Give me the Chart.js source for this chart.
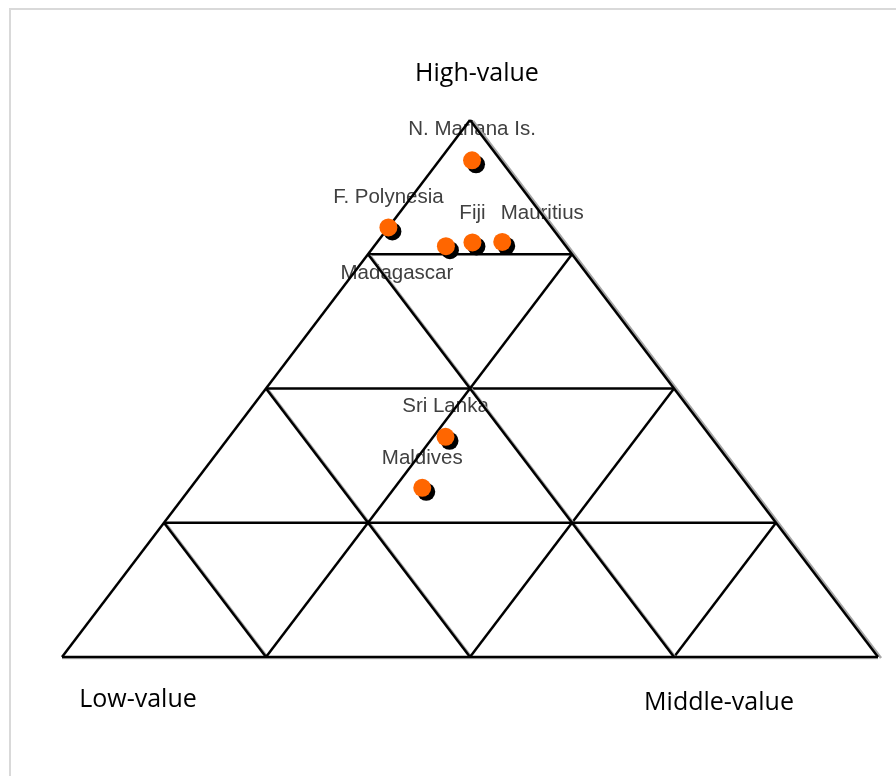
<!DOCTYPE html>
<html>
<head>
<meta charset="utf-8">
<title>Ternary chart</title>
<script src="https://cdn.jsdelivr.net/npm/chart.js@4"></script>
<style>
    html, body { margin: 0; padding: 0; background: #ffffff; }
    #wrap { position: relative; width: 896px; height: 776px; overflow: hidden; }
    #frame {
        position: absolute; left: 9px; top: 8px; right: -10px; bottom: -10px;
        border-top: 2px solid #d9d9d9; border-left: 2px solid #d9d9d9;
    }
    #ternaryChart { position: absolute; left: 0; top: 0; }
</style>
</head>
<body>
<div id="wrap">
    <div id="frame"></div>
    <canvas id="ternaryChart" width="896" height="776"></canvas>
</div>
<script>
// Data: share of high / middle / low value
const countries = ['N. Mariana Is.', 'F. Polynesia', 'Madagascar', 'Fiji', 'Mauritius', 'Sri Lanka', 'Maldives'];
const highShare = [0.925, 0.80, 0.765, 0.772, 0.773, 0.41, 0.315];
const middleShare = [0.04, 0.0, 0.088, 0.117, 0.153, 0.265, 0.284];
const lowShare = [0.035, 0.20, 0.147, 0.111, 0.074, 0.325, 0.401];

// grid divisions on each side
const gridTicks = [0, 0.25, 0.5, 0.75, 1];

// corner titles
const cornerTitles = ['High-value', 'Low-value', 'Middle-value'];

document.addEventListener('DOMContentLoaded', function () {

    // ternary -> cartesian (x across base, y = high share)
    function toXY(h, m, l) {
        const s = h + m + l;
        return { x: (m + h / 2) / s, y: h / s };
    }

    // label placement around the marker (pixels)
    const labelOffsets = [[0, -25], [0, -24], [-49, 33], [0, -23], [40, -23], [0, -25], [0, -24]];

    const datasets = [];

    // the points
    datasets.push({
        label: 'countries',
        data: countries.map((c, i) => toXY(highShare[i], middleShare[i], lowShare[i])),
        backgroundColor: '#ff6600',
        borderWidth: 0,
        pointRadius: 9,
        pointHoverRadius: 9,
        showLine: false,
        clip: false,
        order: 0,
        shadow: { color: '#000000', x: 4, y: 4 }
    });

    function addLine(a, b, shadow) {
        datasets.push({
            data: [a, b],
            showLine: true,
            borderColor: '#000000',
            borderWidth: 2.5,
            pointRadius: 0,
            pointHoverRadius: 0,
            clip: false,
            order: 1,
            shadow: shadow
        });
    }

    const greyShadow = { color: '#a6a6a6', x: 2, y: 1 };

    gridTicks.forEach(t => {
        if (t === 1) return;
        // constant high share (horizontal)
        addLine(toXY(t, 1 - t, 0), toXY(t, 0, 1 - t), t === 0 ? { color: '#bfbfbf', x: 0, y: 1 } : null);
        // constant middle share (parallel to left side)
        addLine(toXY(0, t, 1 - t), toXY(1 - t, t, 0), null);
        // constant low share (parallel to right side)
        addLine(toXY(0, 1 - t, t), toXY(1 - t, 0, t), t === 0 ? { color: '#a6a6a6', x: 3, y: 1 } : greyShadow);
    });

    // shadow plugin, uses the 'shadow' field of a dataset
    const shadowPlugin = {
        id: 'shadowPlugin',
        beforeDatasetDraw(chart, args) {
            const ds = chart.data.datasets[args.index];
            chart.ctx.save();
            if (ds.shadow) {
                chart.ctx.shadowColor = ds.shadow.color;
                chart.ctx.shadowOffsetX = ds.shadow.x;
                chart.ctx.shadowOffsetY = ds.shadow.y;
                chart.ctx.shadowBlur = 0;
            }
        },
        afterDatasetDraw(chart) {
            chart.ctx.restore();
        }
    };

    // text: point labels + corner titles, drawn under the grid
    const textPlugin = {
        id: 'textPlugin',
        beforeDatasetsDraw(chart) {
            const ctx = chart.ctx;
            const xs = chart.scales.x;
            const ys = chart.scales.y;
            ctx.save();
            ctx.textAlign = 'center';
            ctx.textBaseline = 'alphabetic';

            ctx.fillStyle = '#404040';
            ctx.font = '20.5px "Liberation Sans", Arial, sans-serif';
            countries.forEach((c, i) => {
                const p = toXY(highShare[i], middleShare[i], lowShare[i]);
                ctx.fillText(c, xs.getPixelForValue(p.x) + labelOffsets[i][0], ys.getPixelForValue(p.y) + labelOffsets[i][1]);
            });

            ctx.fillStyle = '#000000';
            ctx.font = '25px "Open Sans", sans-serif';
            ctx.fillText(cornerTitles[0], xs.getPixelForValue(0.5) + 7, ys.getPixelForValue(1) - 39);
            ctx.fillText(cornerTitles[1], xs.getPixelForValue(0) + 76, ys.getPixelForValue(0) + 50);
            ctx.fillText(cornerTitles[2], xs.getPixelForValue(1) - 159, ys.getPixelForValue(0) + 53);
            ctx.restore();
        }
    };

    const ctx = document.getElementById('ternaryChart').getContext('2d');
    new Chart(ctx, {
        type: 'scatter',
        data: { datasets: datasets },
        options: {
            responsive: false,
            animation: false,
            layout: { padding: { left: 62, right: 18, top: 120, bottom: 119 } },
            scales: {
                x: { type: 'linear', min: 0, max: 1, display: false },
                y: { type: 'linear', min: 0, max: 1, display: false }
            },
            plugins: {
                legend: { display: false },
                tooltip: { enabled: false }
            }
        },
        plugins: [shadowPlugin, textPlugin]
    });
});
</script>
</body>
</html>
